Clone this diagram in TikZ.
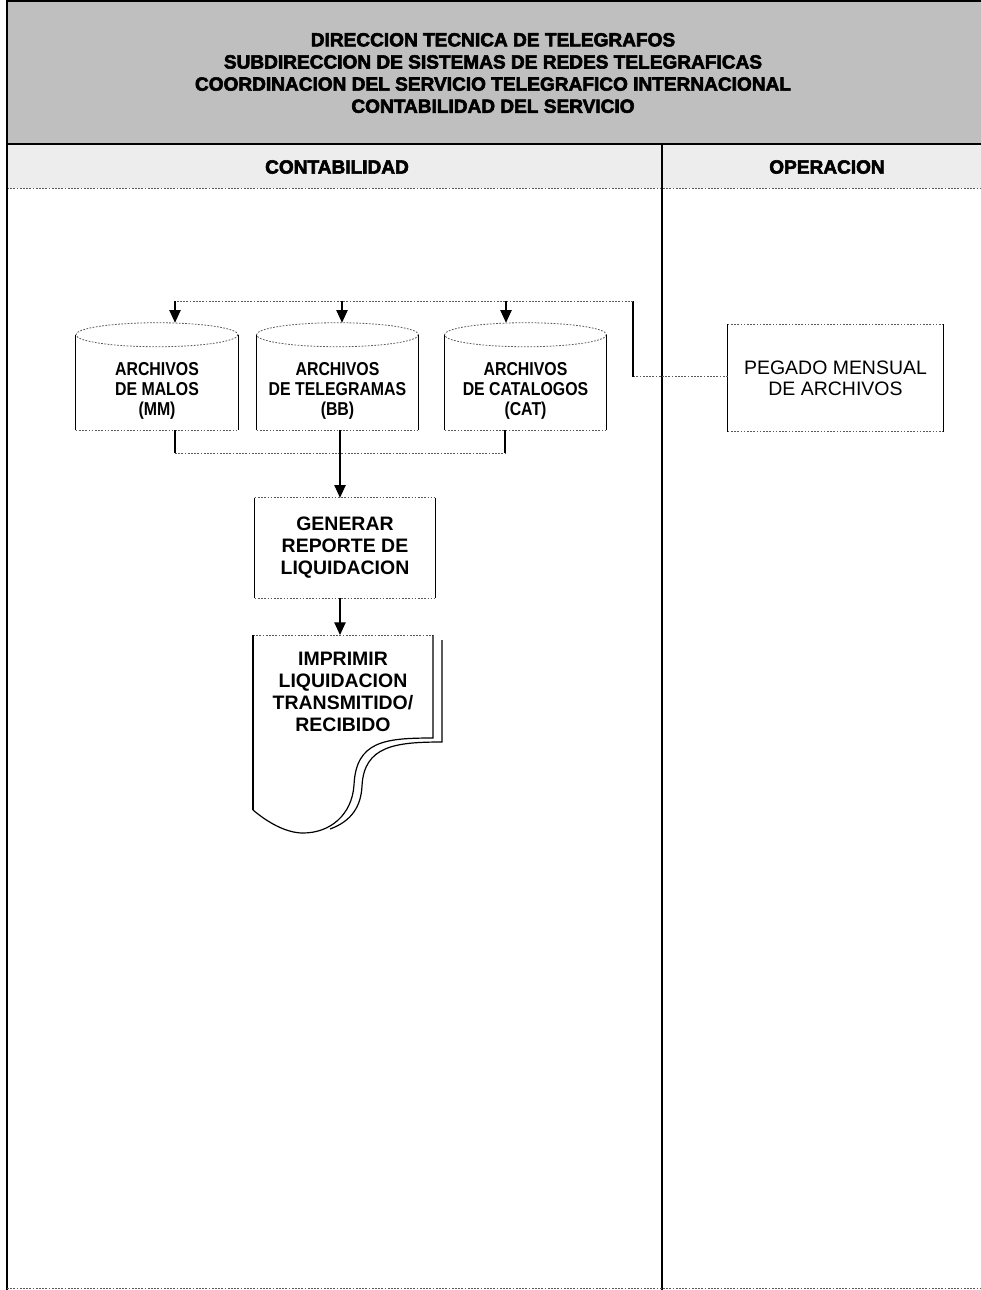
\documentclass[tikz,border=0pt]{standalone}
\usepackage{fontspec}
\setmainfont{Liberation Sans}
\newfontfamily\heavyfont{Liberation Sans Bold}[FakeBold=3]
\newfontfamily\narrowfont{Liberation Sans Bold}[FakeStretch=0.85]
\usetikzlibrary{arrows.meta,calc}

\def\px{0.75pt}

% outline of a process box: solid sides, light dotted top and bottom
\newcommand\drawbox[1]{%
  \draw[vline] (#1.north west) -- (#1.south west);
  \draw[vline] (#1.north east) -- (#1.south east);
  \draw[hline] (#1.north west) -- (#1.north east);
  \draw[hline] (#1.south west) -- (#1.south east);}

% outline of a disk file: elliptic lid, straight sides, flat bottom
\newcommand\drawcyl[1]{%
  \draw[hline] ($(#1.north)+(0,12)$) ellipse [x radius=81, y radius=12];
  \draw[vline] ($(#1.north west)+(0,12)$) -- (#1.south west);
  \draw[vline] ($(#1.north east)+(0,12)$) -- (#1.south east);
  \draw[hline] (#1.south west) -- (#1.south east);}

\tikzset{
  vline/.style={line width=0.9pt, black},
  hline/.style={line width=0.6pt, black!65, dash pattern=on 1.3pt off 1.1pt},
  arrowline/.style={vline, -{Triangle[length=9.5pt,width=8.5pt]}},
  headtext/.style={font=\heavyfont\fontsize{14.3}{16.6}\selectfont, align=center, inner sep=0pt},
  cylbox/.style={minimum width=162*\px, minimum height=107*\px, inner sep=0pt},
  cyltext/.style={font=\narrowfont\fontsize{14}{15}\selectfont, align=center, inner sep=0pt},
  procbox/.style={font=\fontsize{14.6}{16.5}\selectfont\bfseries, align=center, inner sep=0pt},
}

\begin{document}
\begin{tikzpicture}[x=0.75pt,y=-0.75pt]
\useasboundingbox (0,0) rectangle (981,1290);

% ---- title band and column headings ----
\fill[black!25] (7,0) rectangle (981,144);
\fill[black!7] (7,144) rectangle (981,188);
\draw[line width=0.8pt] (7,1) -- (981,1);
\draw[line width=1.5pt] (7,144) -- (981,144);
\draw[hline] (7,188) -- (981,188);
\draw[vline] (7,0) -- (7,1290);
\draw[line width=1.2pt] (662,144) -- (662,1290);
\draw[hline] (7,1288) -- (981,1288);

\node[headtext] (title) at (493,73) {DIRECCION TECNICA DE TELEGRAFOS\\
  SUBDIRECCION DE SISTEMAS DE REDES TELEGRAFICAS\\
  COORDINACION DEL SERVICIO TELEGRAFICO INTERNACIONAL\\
  CONTABILIDAD DEL SERVICIO};
\node[headtext] (colA) at (337,167) {CONTABILIDAD};
\node[headtext] (colB) at (827,167) {OPERACION};

% ---- disk files ----
\node[cylbox] (mm) at (157,376.5) {};
\node[cylbox, minimum width=161*\px] (bb) at (337.5,376.5) {};
\node[cylbox, minimum width=161*\px] (cat) at (525.5,376.5) {};
\drawcyl{mm}
\drawcyl{bb}
\drawcyl{cat}
\node[cyltext] (mmt) at (157,391) {ARCHIVOS\\DE MALOS\\(MM)};
\node[cyltext] (bbt) at (337.5,391) {ARCHIVOS\\DE TELEGRAMAS\\(BB)};
\node[cyltext] (catt) at (525.5,391) {ARCHIVOS\\DE CATALOGOS\\(CAT)};

% ---- monthly merge ----
\node[procbox, minimum width=215*\px, minimum height=107*\px,
      font=\fontsize{14.6}{16}\selectfont] (peg) at (835.5,378)
      {PEGADO MENSUAL\\DE ARCHIVOS};
\drawbox{peg}

% ---- report generation ----
\node[procbox, minimum width=180*\px, minimum height=100*\px] (gen) at (345,548)
      {GENERAR\\REPORTE DE\\LIQUIDACION};
\drawbox{gen}

% ---- printed report (document with curled corner) ----
\node[procbox] (doc) at (343,692) {IMPRIMIR\\LIQUIDACION\\TRANSMITIDO/\\RECIBIDO};
\coordinate (dnw) at (253,635);
\coordinate (dne) at (433,635);
\draw[hline] (dnw) -- (dne);
\draw[vline] (dnw) -- (253,810);
\draw[vline] (dne) -- (433,738)
  .. controls (385,738) and (356,741) .. (354,785)
  .. controls (352,815) and (330,833) .. (303,833)
  .. controls (285,833) and (266,821) .. (253,810);
\draw[vline] (442,640) -- (442,742)
  .. controls (395,742) and (364,746) .. (362,786)
  .. controls (361,806) and (352,821) .. (330,829);

% ---- connectors ----
\coordinate (jn) at (633,301);
\coordinate (jlow) at (633,376.5);
\coordinate (t1) at (175,301);
\coordinate (t2) at (342,301);
\coordinate (t3) at (506,301);
\draw[hline] (peg.west |- jlow) -- (jlow);
\draw[vline] (jlow) -- (jn);
\draw[hline] (jn) -- (t1);
\draw[arrowline] (t1) -- (t1 |- mm.north);
\draw[arrowline] (t2) -- (t2 |- bb.north);
\draw[arrowline] (t3) -- (t3 |- cat.north);

\coordinate (b1) at (175,453);
\coordinate (b2) at (340,453);
\coordinate (b3) at (505,453);
\draw[vline] (b1 |- mm.south) -- (b1);
\draw[vline] (b3 |- cat.south) -- (b3);
\draw[hline] (b1) -- (b3);
\draw[arrowline] (b2 |- bb.south) -- (b2 |- gen.north);
\draw[arrowline] (b2 |- gen.south) -- (b2 |- dnw);
\end{tikzpicture}
\end{document}
